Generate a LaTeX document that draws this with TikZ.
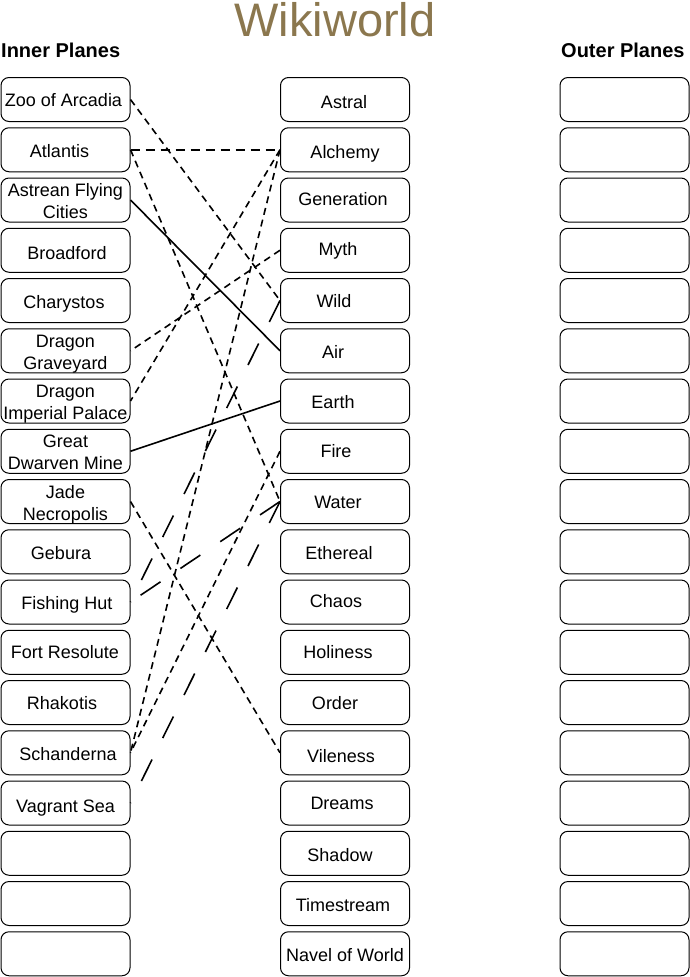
\documentclass[tikz,border=0pt]{standalone}
\usepackage{fontspec}
\setmainfont{Liberation Sans}
\definecolor{titlec}{RGB}{139,119,78}
% name, x, index, text, dx, dy (dy in picture pixels, downwards)
\newcommand\pbx[6]{%
  \node[pbox] (#1) at (#2,{99.5+50.25*#3}) {};
  \node[ptext] (#1t) at ([xshift=#5pt,yshift=-6.5pt-#6pt]#1.center) {#4};}
\newcommand\pbxx[5]{%
  \node[pbox] (#1) at (#2,{99.5+50.25*#3}) {};
  \node[ptext] (#1ta) at ([yshift=3.5pt]#1.center) {#4};
  \node[ptext] (#1tb) at ([yshift=-18.5pt]#1.center) {#5};}
\begin{document}
\begin{tikzpicture}[x=1pt,y=-1pt,
  pbox/.style={draw, line width=1pt, rounded corners=8pt, minimum width=129pt, minimum height=44pt, inner sep=0pt},
  ptext/.style={font=\fontsize{18}{21}\selectfont, inner sep=0pt, anchor=base},
  sd/.style={line width=1.6pt, dash pattern=on 7pt off 5pt},
  sdh/.style={line width=2pt, dash pattern=on 9pt off 6pt},
  ld/.style={line width=1.6pt, dash pattern=on 24pt off 24pt},
  sl/.style={line width=1.6pt}]
\useasboundingbox (0,0) rectangle (690,977);

\node[font=\fontsize{47}{50}\selectfont, text=titlec, anchor=base, inner sep=0pt] (title) at (335,36.5) {Wikiworld};
\node[font=\bfseries\fontsize{20}{22}\selectfont, anchor=base west, inner sep=0pt] (inner) at (1,57.5) {Inner Planes};
\node[font=\bfseries\fontsize{20}{22}\selectfont, anchor=base west, inner sep=0pt] (outer) at (561,57.5) {Outer Planes};

% left column
\pbx{zoo}{65.5}{0}{Zoo of Arcadia}{-2}{0}
\pbx{atl}{65.5}{1}{Atlantis}{-6}{1}
\pbxx{ast}{65.5}{2}{Astrean Flying}{Cities}
\pbx{bro}{65.5}{3}{Broadford}{1.5}{2.5}
\pbx{cha}{65.5}{4}{Charystos}{-1.5}{1.5}
\pbxx{dg}{65.5}{5}{Dragon}{Graveyard}
\pbxx{dip}{65.5}{6}{Dragon}{Imperial Palace}
\pbxx{gdm}{65.5}{7}{Great}{Dwarven Mine}
\pbxx{jade}{65.5}{8}{Jade}{Necropolis}
\pbx{geb}{65.5}{9}{Gebura}{-4.5}{1}
\pbx{fh}{65.5}{10}{Fishing Hut}{1.5}{1}
\pbx{fr}{65.5}{11}{Fort Resolute}{-0.5}{0}
\pbx{rha}{65.5}{12}{Rhakotis}{-3.5}{0}
\pbx{sch}{65.5}{13}{Schanderna}{2.5}{1.5}
\pbx{vs}{65.5}{14}{Vagrant Sea}{0}{3}
\foreach \i in {15,16,17} \node[pbox] (l\i) at (65.5,{99.5+50.25*\i}) {};

% centre column
\pbx{astral}{345}{0}{Astral}{-1}{2.5}
\pbx{alchemy}{345}{1}{Alchemy}{0}{2}
\pbx{generation}{345}{2}{Generation}{-2}{-1}
\pbx{myth}{345}{3}{Myth}{-7}{-1}
\pbx{wild}{345}{4}{Wild}{-11}{0.5}
\pbx{air}{345}{5}{Air}{-12}{1}
\pbx{earth}{345}{6}{Earth}{-12}{1}
\pbx{fire}{345}{7}{Fire}{-9}{0}
\pbx{water}{345}{8}{Water}{-7}{0.5}
\pbx{ethereal}{345}{9}{Ethereal}{-6}{1}
\pbx{chaos}{345}{10}{Chaos}{-9}{-1}
\pbx{holiness}{345}{11}{Holiness}{-7}{0}
\pbx{order}{345}{12}{Order}{-10}{0.5}
\pbx{vileness}{345}{13}{Vileness}{-4}{3}
\pbx{dreams}{345}{14}{Dreams}{-3}{0}
\pbx{shadow}{345}{15}{Shadow}{-5}{2}
\pbx{timestream}{345}{16}{Timestream}{-2}{1.5}
\pbx{navel}{345}{17}{Navel of World}{0}{1}

% right column
\foreach \i in {0,...,17} \node[pbox] (r\i) at (624.5,{99.5+50.25*\i}) {};

% connectors
\draw[sd] (zoo.east) -- (wild.west);
\draw[sdh] (atl.east) -- (alchemy.west);
\draw[sd] (atl.east) -- (water.west);
\draw[sl] (ast.east) -- (air.west);
\draw[sd] (alchemy.west) -- (dip.east);
\draw[sd] (alchemy.west) -- (sch.east);
\draw[sd] (myth.west) -- (dg.east);
\draw[sd] (fire.west) -- (sch.east);
\draw[sd] (jade.east) -- (vileness.west);
\draw[sl] (earth.west) -- (gdm.east);
\draw[ld] (wild.west) -- (fh.east);
\draw[ld] (water.west) -- (fh.east);
\draw[ld] (water.west) -- (vs.east);
\end{tikzpicture}
\end{document}
